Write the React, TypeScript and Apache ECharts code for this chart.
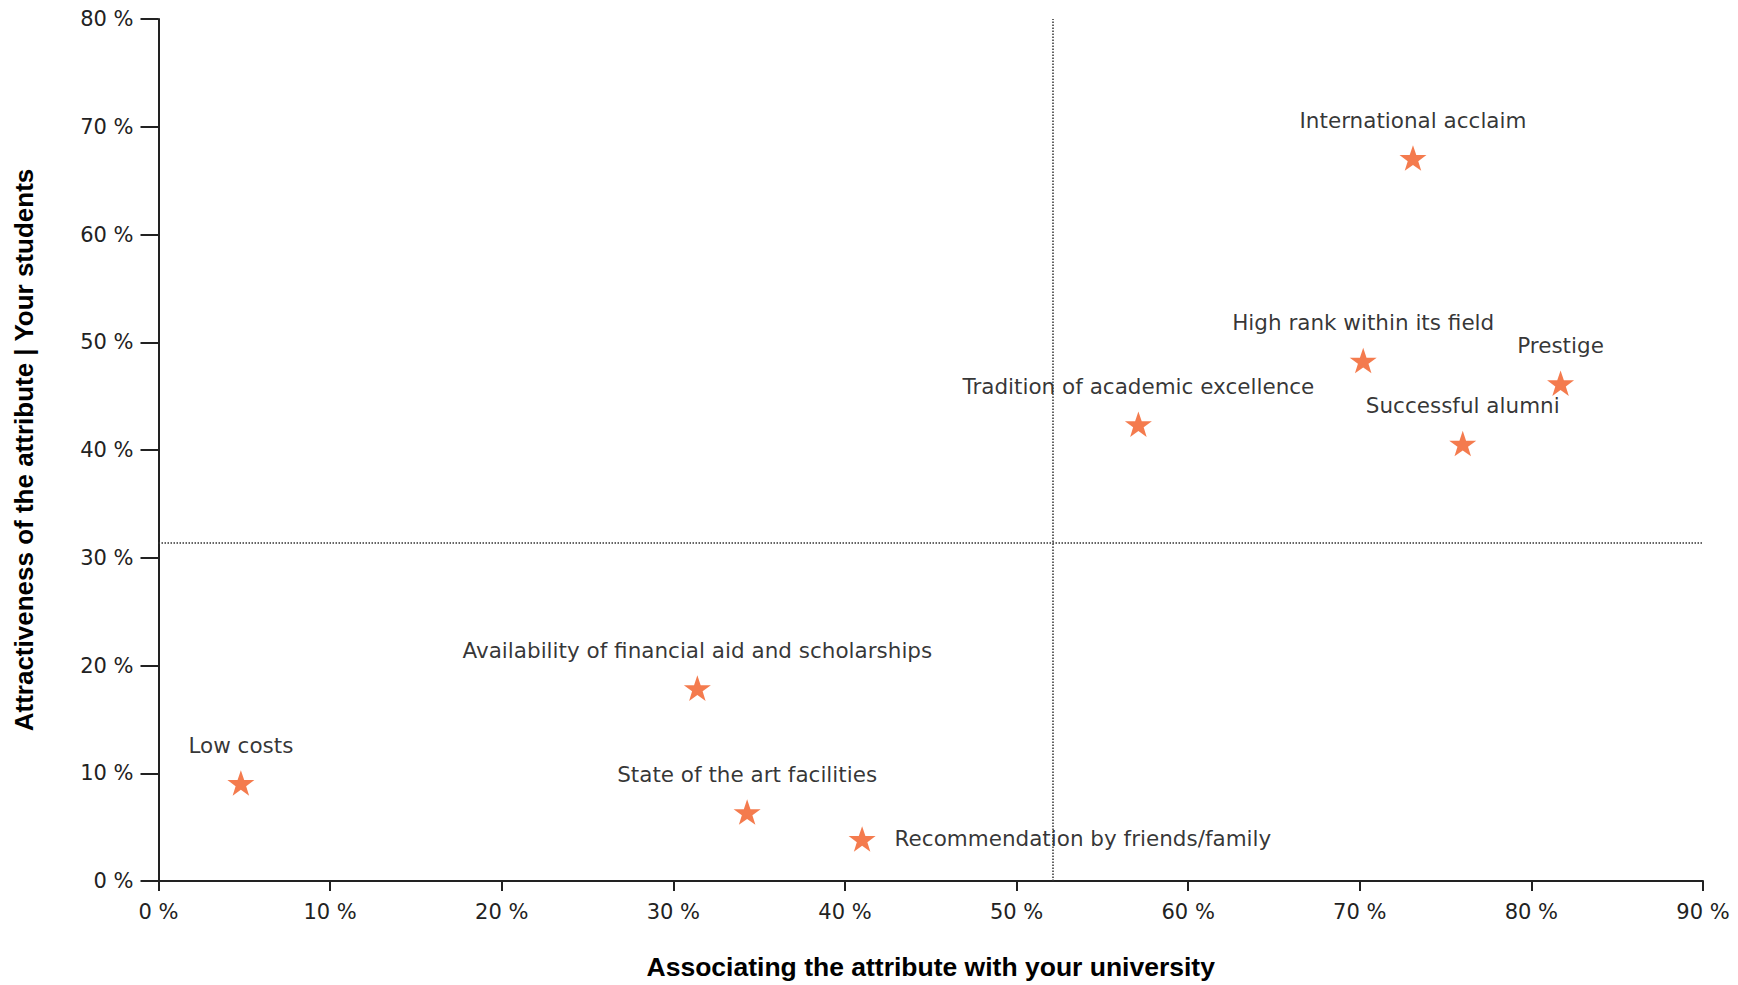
import React, { useEffect, useRef } from "react";
import * as echarts from "echarts";

const attributes = [
  "International acclaim",
  "High rank within its field",
  "Prestige",
  "Tradition of academic excellence",
  "Successful alumni",
  "Availability of financial aid and scholarships",
  "Low costs",
  "State of the art facilities",
  "Recommendation by friends/family",
];
const association = [73.1, 70.2, 81.7, 57.1, 76.0, 31.4, 4.8, 34.3, 41.0];
const attractiveness = [67.1, 48.3, 46.2, 42.4, 40.6, 17.9, 9.1, 6.4, 3.9];
const labelSide = ["top", "top", "top", "top", "top", "top", "top", "top", "right"];
const avgAssociation = 52.1;
const avgAttractiveness = 31.4;

const xTitle = "Associating the attribute with your university";
const yTitle = "Attractiveness of the attribute | Your students";

const STAR =
  "path://M50,0 L61.8,35.1 L98.1,35.1 L68.8,56.8 L79.4,90.9 L50,70 L20.6,90.9 L31.2,56.8 L1.9,35.1 L38.2,35.1 Z";

export default function App() {
  const ref = useRef<HTMLDivElement>(null);
  useEffect(() => {
    if (!ref.current) return;
    const chart = echarts.init(ref.current, undefined, { renderer: "svg" });
    const axisFont = { fontFamily: "DejaVu Sans", fontSize: 21, color: "#222" };
    const data = attributes.map((name, i) => ({
      name,
      value: [association[i], attractiveness[i]],
      label: {
        position: labelSide[i] as any,
        distance: labelSide[i] === "right" ? 19 : 14,
      },
    }));
    chart.setOption({
      animation: false,
      backgroundColor: "#fff",
      grid: { left: 158.5, right: 35, top: 19, bottom: 104, containLabel: false },
      xAxis: {
        type: "value",
        min: 0,
        max: 90,
        interval: 10,
        name: xTitle,
        nameLocation: "middle",
        nameGap: 72,
        nameTextStyle: { fontFamily: "Liberation Sans", fontWeight: "bold", fontSize: 26.5, color: "#000" },
        axisLine: { lineStyle: { color: "#222", width: 2 } },
        axisTick: { show: true, length: 10, lineStyle: { color: "#222", width: 2 } },
        axisLabel: { ...axisFont, margin: 20, formatter: (v: number) => `${v} %` },
        splitLine: { show: false },
      },
      yAxis: {
        type: "value",
        min: 0,
        max: 80,
        interval: 10,
        name: yTitle,
        nameLocation: "middle",
        nameGap: 122,
        nameRotate: 90,
        nameTextStyle: { fontFamily: "Liberation Sans", fontWeight: "bold", fontSize: 26, color: "#000" },
        axisLine: { show: true, lineStyle: { color: "#222", width: 2 } },
        axisTick: { show: true, length: 18, lineStyle: { color: "#222", width: 2 } },
        axisLabel: { ...axisFont, margin: 25, formatter: (v: number) => `${v} %` },
        splitLine: { show: false },
      },
      series: [
        {
          type: "scatter",
          symbol: STAR,
          symbolSize: 27,
          symbolKeepAspect: true,
          itemStyle: { color: "#f15a22" },
          label: {
            show: true,
            formatter: "{b}",
            fontFamily: "DejaVu Sans",
            fontSize: 21.5,
            color: "#000",
          },
          data,
          markLine: {
            silent: true,
            symbol: "none",
            label: { show: false },
            lineStyle: { color: "#333", width: 1.5, type: [1.5, 1.5] },
            data: [{ xAxis: avgAssociation }, { yAxis: avgAttractiveness }],
          },
        },
      ],
    });
    return () => chart.dispose();
  }, []);
  return (
    <div
      ref={ref}
      style={{ position: "fixed", left: 0, top: 0, width: 1738, height: 985, background: "#fff" }}
    />
  );
}
